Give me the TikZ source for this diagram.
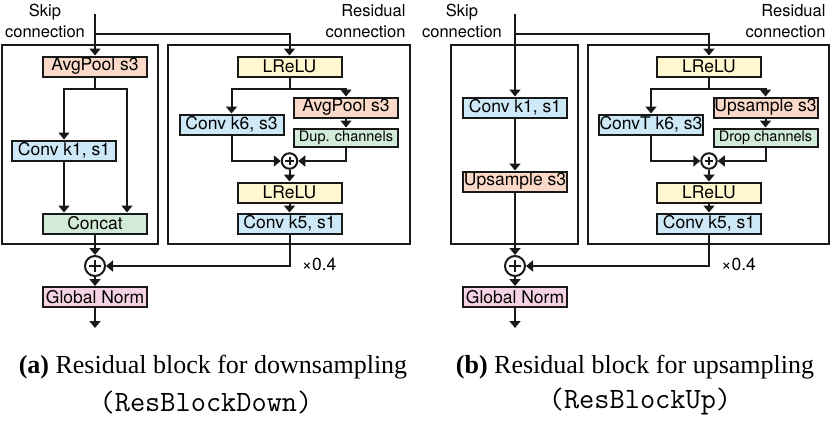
\documentclass[tikz,border=0pt]{standalone}
\usepackage{fontspec}
\setmainfont{Liberation Serif}
\setsansfont{TeX Gyre Heros}
\usetikzlibrary{arrows.meta}
\definecolor{PoolPeach}{HTML}{FBD9C8}
\definecolor{ActYellow}{HTML}{FFF8CF}
\definecolor{ConvBlue}{HTML}{CDE8F6}
\definecolor{MixGreen}{HTML}{D2EAD8}
\definecolor{NormPink}{HTML}{F6D3E3}

\begin{document}
\begin{tikzpicture}[x=1pt,y=-1pt,
    box/.style={draw=black!90,line width=2pt,minimum width=104pt,minimum height=20pt,inner sep=0pt,
                font=\sffamily\fontsize{17.5}{17.5}\selectfont},
    smallbox/.style={box,minimum height=18pt,font=\sffamily\fontsize{14.5}{14.5}\selectfont},
    sum/.style={circle,draw=black!90,line width=2pt,minimum size=#1,inner sep=0pt,
                path picture={\draw[line width=2pt]
                  ([xshift=0.22*#1]path picture bounding box.west)--([xshift=-0.22*#1]path picture bounding box.east)
                  ([yshift=-0.22*#1]path picture bounding box.north)--([yshift=0.22*#1]path picture bounding box.south);}},
    arr/.style={-{Triangle[length=7pt,width=11pt]},line width=2pt,draw=black!90},
    frame/.style={line width=2pt,draw=black!90},
    lbl/.style={font=\sffamily\fontsize{16.5}{21}\selectfont,align=center}]
    \useasboundingbox (0,0) rectangle (830,426);

    % (a) down block
    \draw[frame] (1.5,45) rectangle (158,244);
    \draw[frame] (168,45) rectangle (409.5,244);
    \node[lbl] (skipA) at (45,21) {Skip\\connection};
    \node[lbl,align=right,anchor=east] (resA) at (409,21) {Residual\\connection};
    \coordinate (inA) at (95,14);
    \coordinate (brA) at (95,34);
    \coordinate (outA) at (95,328);
    \node[box,fill=PoolPeach] (poolA) at (95,66.5) {AvgPool s3};
    \node[box,fill=ConvBlue] (convA1) at (64,150.5) {Conv k1, s1};
    \node[box,fill=MixGreen] (catA) at (95,223.5) {Concat};
    \node[sum=20pt] (sumA) at (95,266) {};
    \node[box,fill=NormPink] (normA) at (95,297) {Global Norm};
    \node[box,fill=ActYellow] (reluA1) at (289.5,66.5) {LReLU};
    \node[box,fill=ConvBlue] (convA6) at (231.5,124.5) {Conv k6, s3};
    \node[box,fill=PoolPeach] (poolA2) at (346,107.5) {AvgPool s3};
    \node[smallbox,fill=MixGreen] (dupA) at (346,137.5) {Dup. channels};
    \node[sum=15.5pt] (sumA2) at (289.5,161) {};
    \node[box,fill=ActYellow] (reluA2) at (289.5,192.5) {LReLU};
    \node[box,fill=ConvBlue] (convA5) at (289.5,223.5) {Conv k5, s1};
    \draw[arr] (inA) -- (poolA);
    \draw[arr] (brA) -| (reluA1.north);
    \draw[arr] (poolA.south) -- ++(0,11.5) -| (convA1.north);
    \draw[arr] (poolA.south) -- ++(0,11.5) -| ([xshift=32pt]catA.north);
    \draw[arr] (convA1) -- (convA1 |- catA.north);
    \draw[arr] (catA) -- (sumA);
    \draw[arr] (sumA) -- (normA);
    \draw[arr] (normA) -- (outA);
    \draw[arr] (reluA1.south) -- ++(0,11.5) -| (convA6.north);
    \draw[arr] (reluA1.south) -- ++(0,11.5) -| (poolA2.north);
    \draw[arr] (poolA2) -- (dupA);
    \draw[arr] (convA6.south) |- (sumA2.west);
    \draw[arr] (dupA.south) |- (sumA2.east);
    \draw[arr] (sumA2) -- (reluA2);
    \draw[arr] (reluA2) -- (convA5);
    \draw[arr] (convA5.south) |- (sumA.east)
      node[pos=0.5,anchor=west,xshift=8pt,yshift=2pt,font=\sffamily\fontsize{17.5}{17.5}\selectfont] {×0.4};
    \node[font=\fontsize{26}{30}\selectfont] (capA) at (213,367) {\textbf{(a)} Residual block for downsampling};
    \node[font=\ttfamily\fontsize{29.5}{30}\selectfont] (capA2) at (206,402) {(ResBlockDown)};

    % (b) up block
    \draw[frame] (451,45) rectangle (578,244);
    \draw[frame] (588,45) rectangle (828.5,244);
    \node[lbl] (skipB) at (462,21) {Skip\\connection};
    \node[lbl,align=right,anchor=east] (resB) at (829,21) {Residual\\connection};
    \coordinate (inB) at (515,14);
    \coordinate (brB) at (515,34);
    \coordinate (outB) at (515,328);
    \node[box,fill=ConvBlue] (convB1) at (515,107.5) {Conv k1, s1};
    \node[box,fill=PoolPeach] (upB) at (515,181.5) {Upsample s3};
    \node[sum=20pt] (sumB) at (515,266) {};
    \node[box,fill=NormPink] (normB) at (515,297) {Global Norm};
    \node[box,fill=ActYellow] (reluB1) at (709,66.5) {LReLU};
    \node[box,fill=ConvBlue] (convB6) at (651,124.5) {ConvT k6, s3};
    \node[box,fill=PoolPeach] (upB2) at (765.5,107.5) {Upsample s3};
    \node[smallbox,fill=MixGreen] (dropB) at (765.5,137.5) {Drop channels};
    \node[sum=15.5pt] (sumB2) at (709,161) {};
    \node[box,fill=ActYellow] (reluB2) at (709,192.5) {LReLU};
    \node[box,fill=ConvBlue] (convB5) at (709,223.5) {Conv k5, s1};
    \draw[arr] (inB) -- (convB1);
    \draw[arr] (brB) -| (reluB1.north);
    \draw[arr] (convB1) -- (upB);
    \draw[arr] (upB) -- (sumB);
    \draw[arr] (sumB) -- (normB);
    \draw[arr] (normB) -- (outB);
    \draw[arr] (reluB1.south) -- ++(0,11.5) -| (convB6.north);
    \draw[arr] (reluB1.south) -- ++(0,11.5) -| (upB2.north);
    \draw[arr] (upB2) -- (dropB);
    \draw[arr] (convB6.south) |- (sumB2.west);
    \draw[arr] (dropB.south) |- (sumB2.east);
    \draw[arr] (sumB2) -- (reluB2);
    \draw[arr] (reluB2) -- (convB5);
    \draw[arr] (convB5.south) |- (sumB.east)
      node[pos=0.5,anchor=west,xshift=8pt,yshift=2pt,font=\sffamily\fontsize{17.5}{17.5}\selectfont] {×0.4};
    \node[font=\fontsize{26}{30}\selectfont] (capB) at (635,367) {\textbf{(b)} Residual block for upsampling};
    \node[font=\ttfamily\fontsize{29.5}{30}\selectfont] (capB2) at (640,402) {(ResBlockUp)};
\end{tikzpicture}
\end{document}
